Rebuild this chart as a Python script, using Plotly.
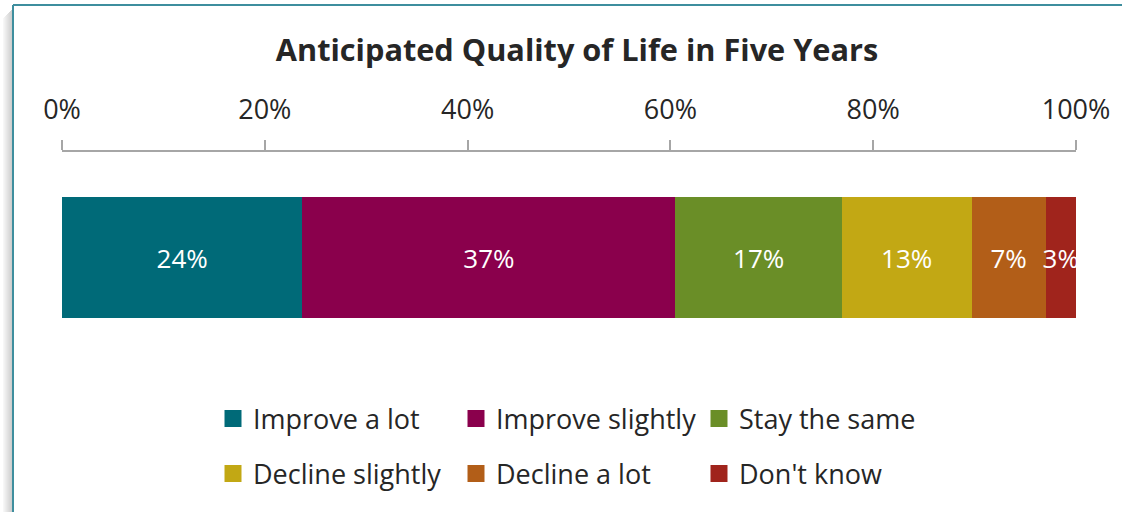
import plotly.graph_objects as go

categories = ["Improve a lot", "Improve slightly", "Stay the same",
              "Decline slightly", "Decline a lot", "Don't know"]
values = [23.7, 36.8, 16.4, 12.8, 7.3, 3.0]
labels = ["24%", "37%", "17%", "13%", "7%", "3%"]
colors = ["#006A78", "#8A004C", "#6A8E27", "#C2A814", "#B25E18", "#A0241C"]
tick_vals = [0, 20, 40, 60, 80, 100]
tick_text = ["0%", "20%", "40%", "60%", "80%", "100%"]

FONT = "Open Sans"
W, H = 1122, 512
L, R, T, B = 62, 46, 152, 149
PW, PH = W - L - R, H - T - B

def px2x(px):
    return (px - L) / PW

def py2y(py):
    return (H - B - py) / PH

fig = go.Figure()
for c, v, t, col in zip(categories, values, labels, colors):
    fig.add_trace(go.Bar(
        x=[v], y=[0], orientation="h", name=c, marker_color=col,
        marker_line_width=0, text=[t], textposition="inside",
        insidetextanchor="middle", textangle=0, cliponaxis=False,
        textfont=dict(family=FONT, size=26, color="white"),
        showlegend=False, hoverinfo="skip"))

# legend entries (two rows of three)
for i, (c, col) in enumerate(zip(categories, colors)):
    fig.add_trace(go.Bar(
        x=[None], y=[None], orientation="h", name=c,
        marker=dict(color=col, line=dict(color=col, width=5)),
        legend="legend" if i < 3 else "legend2", showlegend=True))

legend_common = dict(orientation="h", xanchor="left", yanchor="middle",
                     font=dict(family=FONT, size=27, color="#262626"),
                     entrywidth=198, itemwidth=30, tracegroupgap=0,
                     bgcolor="rgba(0,0,0,0)", traceorder="normal")

fig.update_layout(
    width=W, height=H,
    margin=dict(l=L, r=R, t=T, b=B),
    paper_bgcolor="white", plot_bgcolor="white",
    barmode="stack", bargap=0.427,
    uniformtext=dict(minsize=26, mode="show"),
    showlegend=True,
    title=dict(text="<b>Anticipated Quality of Life in Five Years</b>",
               x=577 / W, xanchor="center", y=1 - 50 / H, yanchor="middle",
               font=dict(family=FONT, size=30.7, color="#262626")),
    xaxis=dict(side="top", range=[0, 100], tickvals=tick_vals, ticktext=tick_text,
               showgrid=False, zeroline=False, showline=True, linecolor="#A6A6A6",
               linewidth=2, ticks="outside", ticklen=10, tickwidth=1.5,
               tickcolor="#A6A6A6", ticklabelstandoff=10,
               tickfont=dict(family=FONT, size=27, color="#262626")),
    yaxis=dict(range=[-0.5, 0.5], visible=False, fixedrange=True),
    legend=dict(x=px2x(213), y=py2y(419), **legend_common),
    legend2=dict(x=px2x(213), y=py2y(474), **legend_common),
)

# outer chart border with soft shadow
for k, op in enumerate([0.03, 0.05, 0.07, 0.09, 0.11, 0.13, 0.15, 0.17, 0.19, 0.22]):
    fig.add_shape(type="rect", xref="paper", yref="paper",
                  x0=px2x(3 + k), x1=px2x(4 + k), y0=py2y(H + 5), y1=py2y(8 + (10 - k)),
                  line_width=0, fillcolor="rgba(0,0,0,%.2f)" % op, layer="below")
fig.add_shape(type="line", xref="paper", yref="paper",
              x0=px2x(13), x1=px2x(13), y0=py2y(5), y1=py2y(H + 5),
              line=dict(color="#3E8E9E", width=2))
fig.add_shape(type="line", xref="paper", yref="paper",
              x0=px2x(13), x1=px2x(W + 5), y0=py2y(5), y1=py2y(5),
              line=dict(color="#3E8E9E", width=2))

fig.write_html("out.html", config={"displayModeBar": False},
               post_script="document.body.style.margin='0';document.body.style.overflow='hidden';")
